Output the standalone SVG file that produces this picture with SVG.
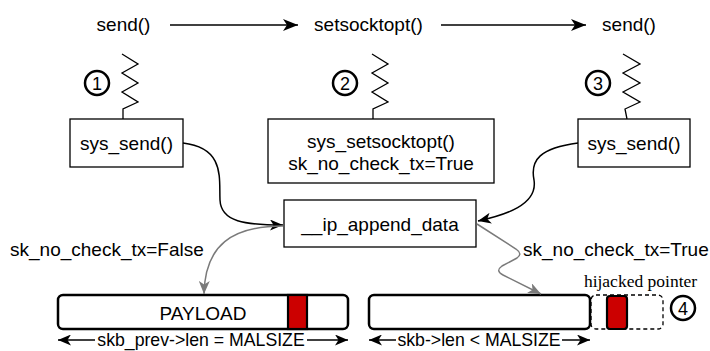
<svg xmlns="http://www.w3.org/2000/svg" width="710" height="351" viewBox="0 0 710 351">
  <style>
    text { font-family: "Liberation Sans", Arial, sans-serif; fill: #000; }
    .t19 { font-size: 19px; }
    .t18 { font-size: 17.7px; }
    .mid { text-anchor: middle; }
    .num { font-size: 18px; text-anchor: middle; }
    .box { fill: #fff; stroke: #000; stroke-width: 1.3; }
    .bar { fill: #fff; stroke: #000; stroke-width: 2.5; }
    .ptr { fill: #cc0000; stroke: #000; stroke-width: 2.2; }
    .dash { fill: none; stroke: #000; stroke-width: 1.3; stroke-dasharray: 4 3; }
    .ring { fill: none; stroke: #000; stroke-width: 2.5; }
    .zig { fill: none; stroke: #000; stroke-width: 1.3; stroke-linejoin: miter; }
    .edge { fill: none; stroke: #000; stroke-width: 1.5; }
    .gray { fill: none; stroke: #7a7a7a; stroke-width: 1.5; }
    .serif { font-family: "Liberation Serif", "Times New Roman", serif; font-size: 17.5px; }
  </style>
  <defs>
    <marker id="arr" markerUnits="userSpaceOnUse" markerWidth="16" markerHeight="12" refX="15" refY="6" orient="auto">
      <path d="M0,0 L15,6 L0,12 L4,6 Z" fill="#000"/>
    </marker>
    <marker id="arrS" markerUnits="userSpaceOnUse" markerWidth="14" markerHeight="11" refX="13" refY="5.5" orient="auto">
      <path d="M0,0 L13,5.5 L0,11 L3.5,5.5 Z" fill="#000"/>
    </marker>
    <marker id="arrG" markerUnits="userSpaceOnUse" markerWidth="14" markerHeight="11" refX="13" refY="5.5" orient="auto">
      <path d="M0,0 L13,5.5 L0,11 L3.5,5.5 Z" fill="#7a7a7a"/>
    </marker>
    <marker id="dimR" markerUnits="userSpaceOnUse" markerWidth="14" markerHeight="11" refX="13" refY="5.5" orient="auto">
      <path d="M0,0 L13,5.5 L0,11 L3.5,5.5 Z" fill="#000"/>
    </marker>
    <marker id="dimL" markerUnits="userSpaceOnUse" markerWidth="14" markerHeight="11" refX="0" refY="5.5" orient="auto">
      <path d="M13,0 L0,5.5 L13,11 L9.5,5.5 Z" fill="#000"/>
    </marker>
  </defs>

  <!-- call sequence along the top -->
  <g id="call-send-1"><text class="t19 mid" x="123.5" y="31">send()</text></g>
  <g id="call-setsockopt"><text class="t19 mid" x="368.5" y="31">setsocktopt()</text></g>
  <g id="call-send-2"><text class="t19 mid" x="629" y="31">send()</text></g>

  <!-- step markers with zigzag triggers -->
  <g id="step-1">
    <circle class="ring" cx="97" cy="83" r="12"/>
    <text class="num" x="97" y="89.5">1</text>
    <polyline class="zig" points="122,54 138,64 122,73 138,83 122,92 138,102 123,109 123,119"/>
  </g>
  <g id="step-2">
    <circle class="ring" cx="345" cy="83" r="12"/>
    <text class="num" x="345" y="89.5">2</text>
    <polyline class="zig" points="372,54 388,64 372,73 388,83 372,92 388,102 373,109 373,119"/>
  </g>
  <g id="step-3">
    <circle class="ring" cx="598" cy="83" r="12"/>
    <text class="num" x="598" y="89.5">3</text>
    <polyline class="zig" points="623,54 640,64 623,73 640,83 623,92 640,102 625,109 627,119"/>
  </g>

  <!-- syscall boxes -->
  <g id="sys-send-1">
    <rect class="box" x="70" y="119" width="113" height="48"/>
    <text class="t19 mid" x="126.5" y="150">sys_send()</text>
  </g>
  <g id="sys-setsockopt">
    <rect class="box" x="268" y="119" width="226" height="64"/>
    <text class="t19 mid" x="381" y="148">sys_setsocktopt()</text>
    <text class="t19 mid" x="381" y="170">sk_no_check_tx=True</text>
  </g>
  <g id="sys-send-2">
    <rect class="box" x="578" y="119" width="112" height="48"/>
    <text class="t19 mid" x="634" y="150">sys_send()</text>
  </g>
  <g id="ip-append-data">
    <rect class="box" x="284" y="200" width="192" height="47"/>
    <text class="t19 mid" x="380" y="230.5">__ip_append_data</text>
  </g>

  <!-- socket buffers -->
  <g id="skb-prev">
    <rect class="bar" x="58" y="295" width="290" height="34" rx="5"/>
    <rect class="ptr" x="288" y="295" width="19" height="34"/>
    <text class="t19 mid" x="203" y="319.5">PAYLOAD</text>
  </g>
  <g id="skb">
    <rect class="bar" x="369" y="295" width="221" height="34" rx="5"/>
    <rect class="dash" x="591" y="295" width="72" height="34" rx="5"/>
    <rect class="ptr" x="607" y="296" width="20" height="33" rx="3"/>
    <text class="serif mid" x="640.5" y="287">hijacked pointer</text>
  </g>
  <g id="step-4">
    <circle class="ring" cx="683" cy="308" r="12"/>
    <text class="num" x="683" y="314.5">4</text>
  </g>

  <!-- connectors -->
  <g id="connectors">
    <line class="edge" x1="170" y1="25" x2="298" y2="25" marker-end="url(#arr)"/>
    <line class="edge" x1="441" y1="25" x2="586" y2="25" marker-end="url(#arr)"/>
    <path class="edge" d="M183,143 C225,148 219,178 220,200 C221,222 245,225 283,225" marker-end="url(#arrS)"/>
    <path class="edge" d="M578,143 C540,148 530,160 534,180 C538,205 505,215 478,221" marker-end="url(#arrS)"/>
    <path class="gray" d="M283,226 C232,226 205,245 204,294" marker-end="url(#arrG)"/>
    <path class="gray" d="M477,224 L516,249 Q523,254 517,258 L502,266 Q495,271 503,275 L541,294" marker-end="url(#arrG)"/>
    <text class="t19" x="10" y="256">sk_no_check_tx=False</text>
    <text class="t19" x="523" y="256">sk_no_check_tx=True</text>

    <!-- length dimensions -->
    <line class="edge" x1="58" y1="340" x2="348" y2="340" marker-start="url(#dimL)" marker-end="url(#dimR)"/>
    <rect x="95" y="331" width="212" height="20" fill="#fff"/>
    <text class="t18 mid" x="201" y="346">skb_prev-&gt;len = MALSIZE</text>
    <line class="edge" x1="369" y1="340" x2="590" y2="340" marker-start="url(#dimL)" marker-end="url(#dimR)"/>
    <rect x="396" y="331" width="166" height="20" fill="#fff"/>
    <text class="t18 mid" x="479" y="346">skb-&gt;len &lt; MALSIZE</text>
  </g>
</svg>
